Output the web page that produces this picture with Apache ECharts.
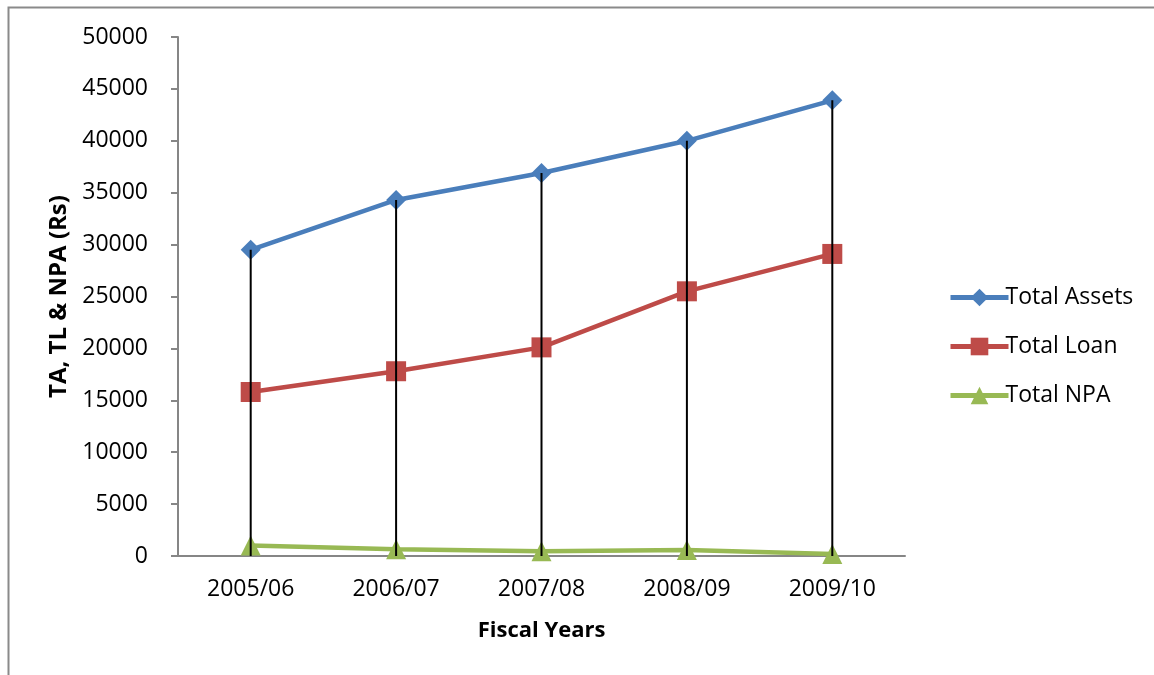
<!DOCTYPE html>
<html><head><meta charset="utf-8">
<script src="https://cdn.jsdelivr.net/npm/echarts@6/dist/echarts.min.js"></script>
<style>html,body{margin:0;padding:0;background:#fff}#c{width:1154px;height:675px}</style>
</head><body><div id="c"></div>
<script>
var categories = ['2005/06', '2006/07', '2007/08', '2008/09', '2009/10'];
var totalAssets = [29500, 34300, 36900, 40000, 43900];
var totalLoan = [15800, 17800, 20100, 25500, 29100];
var totalNPA = [1000, 650, 450, 580, 200];
var yTicks = {min: 0, max: 50000, interval: 5000};

var chart = echarts.init(document.getElementById('c'));
var font = 'Open Sans';
chart.setOption({
  animation: false,
  backgroundColor: '#fff',
  graphic: [{
    type: 'rect', z: -1,
    shape: {x: 8.5, y: 7.5, width: 1200, height: 800},
    style: {fill: 'none', stroke: '#8a8a8a', lineWidth: 2}
  }],
  grid: {left: 178, right: 249, top: 37, bottom: 119},
  legend: {
    orient: 'vertical', left: 943, top: 281,
    itemWidth: 58, itemHeight: 22, itemGap: 26,
    lineStyle: {width: 5},
    textStyle: {fontFamily: font, fontSize: 23, color: '#000', padding: [0,0,0,-8]},
    data: ['Total Assets', 'Total Loan', 'Total NPA']
  },
  xAxis: {
    type: 'category', data: categories,
    name: 'Fiscal Years', nameLocation: 'middle', nameGap: 64,
    nameTextStyle: {fontFamily: font, fontSize: 22, fontWeight: 'bold', color: '#000'},
    axisLine: {lineStyle: {color: '#868686', width: 2}},
    axisTick: {show: false},
    axisLabel: {fontFamily: font, fontSize: 23, color: '#000', margin: 22},
    splitLine: {show: false}
  },
  yAxis: {
    type: 'value', min: yTicks.min, max: yTicks.max, interval: yTicks.interval,
    name: 'TA, TL & NPA (Rs)', nameLocation: 'middle', nameGap: 106,
    nameTextStyle: {fontFamily: font, fontSize: 24, fontWeight: 'bold', color: '#000'},
    axisLine: {show: true, lineStyle: {color: '#868686', width: 2}},
    axisTick: {show: true, length: 7, lineStyle: {color: '#868686', width: 2}},
    axisLabel: {fontFamily: font, fontSize: 23, color: '#000', margin: 30,
                formatter: function(v){ return String(v); }},
    splitLine: {show: false}
  },
  series: [
    {name: 'Total Assets', type: 'line', data: totalAssets, symbol: 'diamond', symbolSize: 20,
     lineStyle: {color: '#4a7ebb', width: 4.5}, itemStyle: {color: '#4a7ebb'}, z: 3},
    {name: 'Total Loan', type: 'line', data: totalLoan, symbol: 'rect', symbolSize: 20,
     lineStyle: {color: '#be4b48', width: 4.5}, itemStyle: {color: '#be4b48'}, z: 3},
    {name: 'Total NPA', type: 'line', data: totalNPA, symbol: 'triangle', symbolSize: 20,
     lineStyle: {color: '#98b954', width: 4.5}, itemStyle: {color: '#98b954'}, z: 3},
    {name: 'drop', type: 'custom', z: 10, data: totalAssets.map(function(v, i){ return [i, v]; }),
     renderItem: function(params, api) {
       var top = api.coord([api.value(0), api.value(1)]);
       var bot = api.coord([api.value(0), 0]);
       return {type: 'line', shape: {x1: top[0], y1: top[1], x2: bot[0], y2: bot[1]},
               style: {stroke: '#000', lineWidth: 2}};
     }}
  ]
});
</script></body></html>
